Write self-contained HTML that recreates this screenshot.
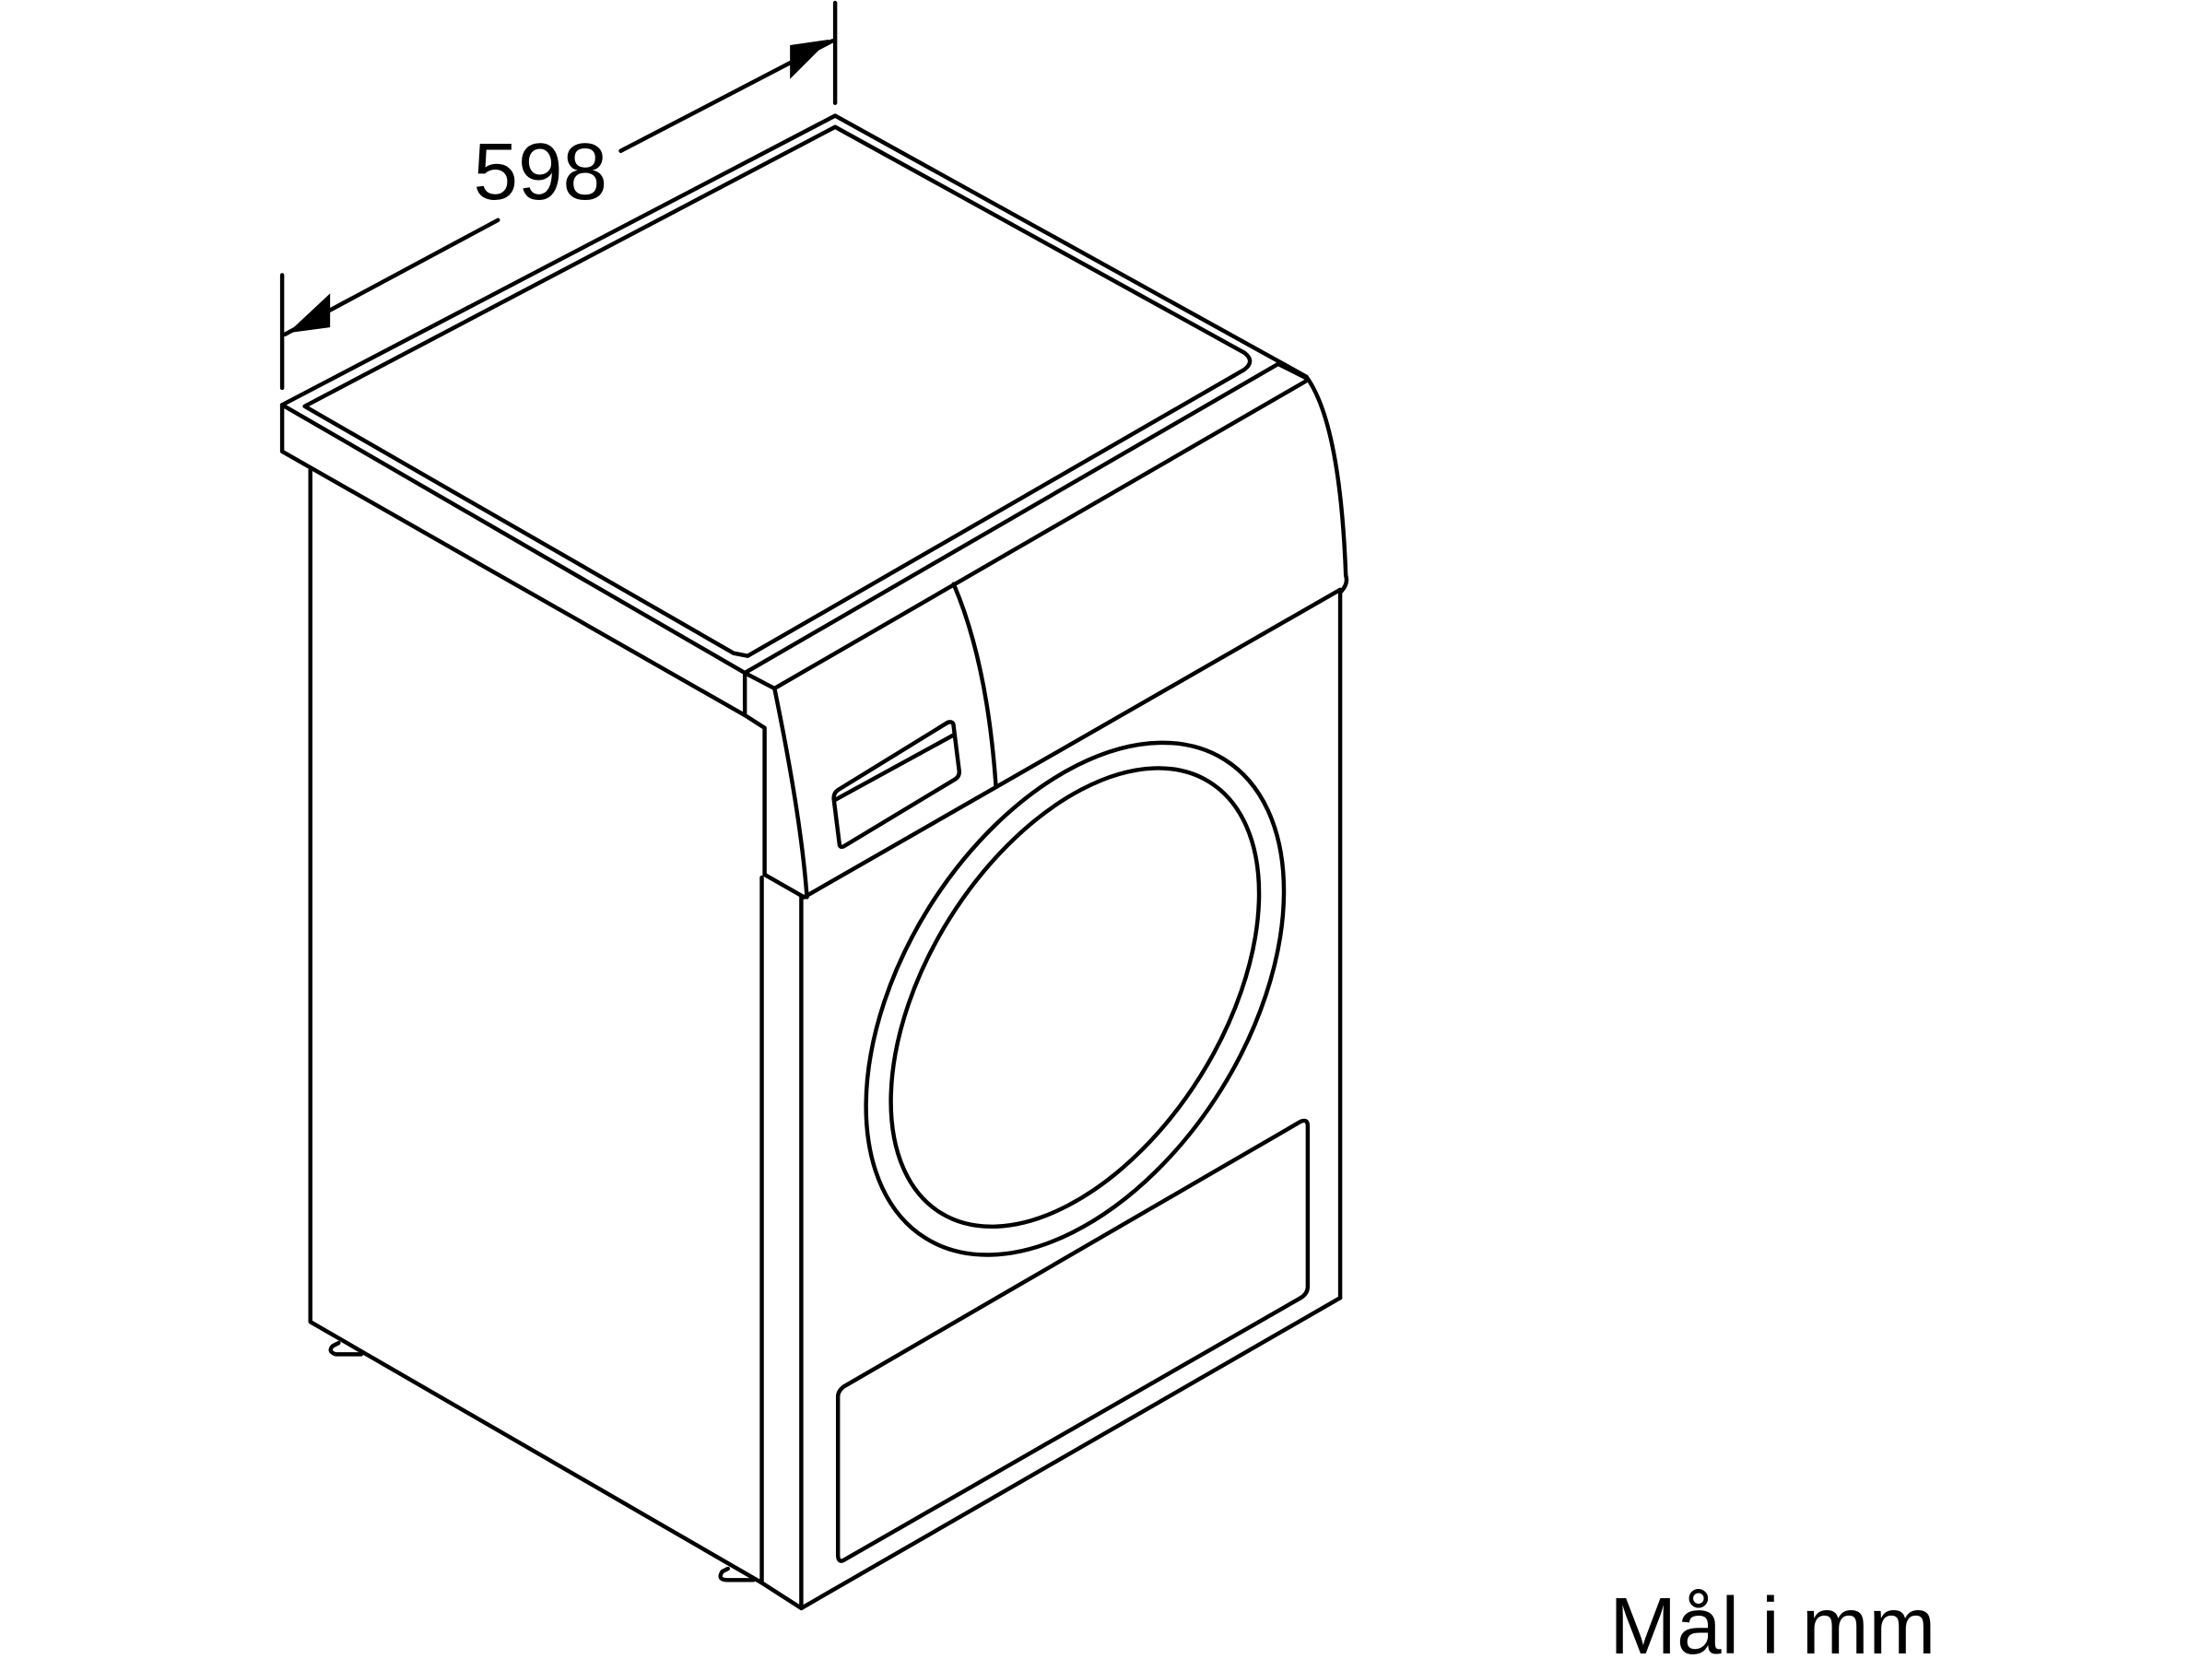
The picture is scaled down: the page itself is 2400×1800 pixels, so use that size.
<!DOCTYPE html>
<html><head><meta charset="utf-8"><style>
html,body{margin:0;padding:0;background:#fff;}
svg{display:block;}
</style></head><body>
<svg width="2400" height="1800" viewBox="0 0 1568 1176" xmlns="http://www.w3.org/2000/svg">
<g fill="none" stroke="#000" stroke-width="2.9" stroke-linejoin="round" stroke-linecap="round">
<line x1="592" y1="2" x2="592" y2="73"/>
<line x1="200" y1="195" x2="200" y2="275"/>
<line x1="440" y1="107" x2="590" y2="29"/>
<line x1="353" y1="156" x2="202" y2="237"/>
<polyline points="200,287 592,82 926,267"/>
<path d="M216,288 L592,90 L882,250 Q890,256 882,262 L530,465 L520,463 Z"/>
<line x1="200" y1="287" x2="528" y2="477"/>
<line x1="528" y1="477" x2="906" y2="258"/>
<line x1="549" y1="488" x2="926" y2="270"/>
<line x1="528" y1="477" x2="549" y2="488"/>
<line x1="906" y1="258" x2="926" y2="268"/>
<polyline points="200,287 200,320 528,507 542,516 542,620"/>
<line x1="528" y1="477" x2="528" y2="507"/>
<polyline points="220,333 220,937 540,1122 568,1140"/>
<path d="M549,488 Q568,580 572,636"/>
<line x1="542" y1="620" x2="570" y2="636"/>
<line x1="540" y1="622" x2="540" y2="1122"/>
<line x1="568" y1="636" x2="568" y2="1140"/>
<line x1="568" y1="1140" x2="950" y2="920"/>
<line x1="950" y1="420" x2="950" y2="920"/>
<path d="M926,267 Q950,300 954,408 Q956,414 950,420"/>
<line x1="570" y1="636" x2="950" y2="418"/>
<path d="M676,414 Q700,470 706,558"/>
<path d="M594,560 L672,512 Q676,511 676,515 L680,547 Q680,551 676,553 L598,600 Q595,601 595,598 L591,566 Q591,562 594,560 Z"/>
<line x1="592" y1="567" x2="676" y2="521"/>
<ellipse cx="762" cy="708" rx="200" ry="122" transform="rotate(-58 762 708)"/>
<ellipse cx="762" cy="707" rx="180" ry="105" transform="rotate(-58 762 707)"/>
<path d="M598,983 L922,795 Q927,793 927,798 L927,912 Q927,917 922,920 L598,1106 Q594,1108 594,1102 L594,990 Q594,986 598,983 Z"/>
<path d="M240,952 L236,954 Q232,958 238,960 L256,960"/>
<path d="M516,1112 L512,1114 Q508,1120 516,1120 L534,1120"/>
</g>
<polygon points="560,32 588,28 560,56" fill="#000"/>
<polygon points="204,236 234,208 234,232" fill="#000"/>
<text x="383" y="141" font-family="Liberation Sans, sans-serif" font-size="57" text-anchor="middle" fill="#000">598</text>
<text x="1141" y="1172" font-family="Liberation Sans, sans-serif" font-size="57" fill="#000">Mål i mm</text>
</svg>
</body></html>
